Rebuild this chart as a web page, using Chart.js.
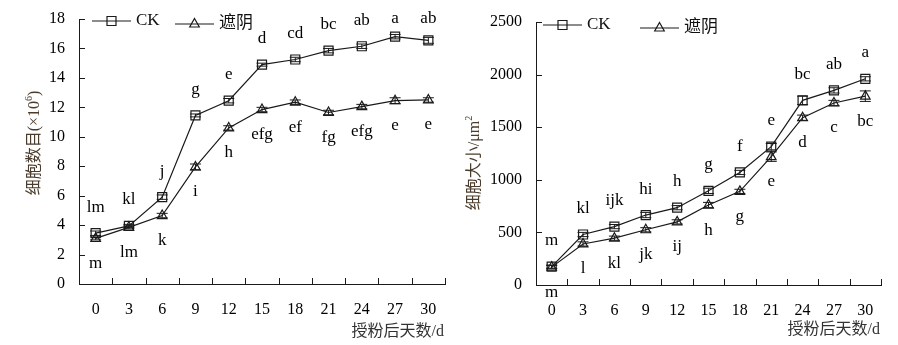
<!DOCTYPE html>
<html>
<head>
<meta charset="utf-8">
<script src="https://cdn.jsdelivr.net/npm/chart.js@4/dist/chart.umd.min.js"></script>
<style>
  html, body { margin: 0; padding: 0; background: #fff; }
  .box { position: absolute; top: 0; height: 345px; }
  #left { left: 0; width: 450px; }
  #right { left: 450px; width: 448px; }
</style>
</head>
<body>
<div class="box" id="left"><canvas id="countChart"></canvas></div>
<div class="box" id="right"><canvas id="sizeChart"></canvas></div>
<script>
// ---------------- Datos ----------------
const days = ['0', '3', '6', '9', '12', '15', '18', '21', '24', '27', '30'];

const countCK = [3.45, 3.95, 5.9, 11.45, 12.45, 14.9, 15.25, 15.85, 16.15, 16.8, 16.55];
const countShade = [3.1, 3.85, 4.65, 7.95, 10.6, 11.85, 12.35, 11.65, 12.05, 12.45, 12.5];
const countCKErr = [0.15, 0.1, 0.15, 0.1, 0.15, 0.1, 0.15, 0.15, 0.15, 0.15, 0.2];
const countShadeErr = [0.1, 0.1, 0.15, 0.2, 0.15, 0.15, 0.15, 0.15, 0.15, 0.2, 0.15];
const countCKSig = ['lm', 'kl', 'j', 'g', 'e', 'd', 'cd', 'bc', 'ab', 'a', 'ab'];
const countShadeSig = ['m', 'lm', 'k', 'i', 'h', 'efg', 'ef', 'fg', 'efg', 'e', 'e'];

const sizeCK = [175, 480, 555, 665, 735, 895, 1070, 1315, 1755, 1850, 1960];
const sizeShade = [170, 390, 445, 525, 600, 760, 890, 1220, 1590, 1730, 1795];
const sizeCKErr = [15, 20, 20, 25, 20, 25, 20, 30, 40, 25, 20];
const sizeShadeErr = [15, 20, 20, 20, 20, 25, 20, 45, 25, 25, 50];
const sizeCKSig = ['m', 'kl', 'ijk', 'hi', 'h', 'g', 'f', 'e', 'bc', 'ab', 'a'];
const sizeShadeSig = ['m', 'l', 'kl', 'jk', 'ij', 'h', 'g', 'e', 'd', 'c', 'bc'];

const seriesNames = ['CK', '遮阴'];

const FONT = '"Liberation Serif", "Noto Sans CJK SC", serif';
const INK = '#1a1a1a';

// ---------------- Marcadores ----------------

function drawMarker(ctx, style, x, y) {
    ctx.save();
    ctx.strokeStyle = INK;
    ctx.lineWidth = 1.2;
    ctx.beginPath();
    if (style === 'rect') {
        ctx.rect(x - 4.5, y - 4.5, 9, 9);
    } else {
        ctx.moveTo(x, y - 5.5);
        ctx.lineTo(x + 4.8, y + 3);
        ctx.lineTo(x - 4.8, y + 3);
        ctx.closePath();
    }
    ctx.stroke();
    ctx.restore();
}

// ---------------- Plugin: marcas de eje, barras de error, letras, leyenda, títulos ----------------

const decorPlugin = {
    id: 'decor',
    afterDatasetsDraw(chart, args, opts) {
        const ctx = chart.ctx;
        const xScale = chart.scales.x;
        const yScale = chart.scales.y;
        const area = chart.chartArea;

        // marcas hacia dentro
        ctx.save();
        ctx.strokeStyle = INK;
        ctx.lineWidth = 1;
        ctx.beginPath();
        for (let i = 0; i <= days.length; i++) {
            const px = Math.round(xScale.getPixelForValue(i - 0.5)) + 0.5;
            ctx.moveTo(px, area.bottom); ctx.lineTo(px, area.bottom - 6);
        }
        yScale.ticks.forEach(t => {
            const py = Math.round(yScale.getPixelForValue(t.value)) + 0.5;
            ctx.moveTo(area.left, py); ctx.lineTo(area.left + 6, py);
        });
        ctx.stroke();
        ctx.restore();

        chart.data.datasets.forEach((ds, di) => {
            const meta = chart.getDatasetMeta(di);
            meta.data.forEach((pt, i) => {
                const e = ds.err[i];
                const yTop = yScale.getPixelForValue(ds.data[i] + e);
                const yBot = yScale.getPixelForValue(ds.data[i] - e);
                ctx.save();
                ctx.strokeStyle = INK;
                ctx.lineWidth = 1;
                ctx.beginPath();
                ctx.moveTo(pt.x, yTop); ctx.lineTo(pt.x, yBot);
                ctx.moveTo(pt.x - 5.5, yTop); ctx.lineTo(pt.x + 5.5, yTop);
                ctx.moveTo(pt.x - 5.5, yBot); ctx.lineTo(pt.x + 5.5, yBot);
                ctx.stroke();
                ctx.restore();
                drawMarker(ctx, ds.marker, pt.x, pt.y);

                // letras de significancia
                ctx.save();
                ctx.font = '17px ' + FONT;
                ctx.fillStyle = '#000';
                ctx.textAlign = 'center';
                ctx.textBaseline = 'middle';
                let ty = di === 0 ? pt.y - 26 : pt.y + 25;
                if (di === 0) ty = Math.max(ty, opts.sigTop);
                ctx.fillText(ds.sig[i], pt.x, ty);
                ctx.restore();
            });
        });

        // leyenda
        opts.legend.forEach((lg, di) => {
            const ds = chart.data.datasets[di];
            ctx.save();
            ctx.strokeStyle = INK;
            ctx.lineWidth = 1.2;
            ctx.beginPath();
            ctx.moveTo(lg.x, lg.y); ctx.lineTo(lg.x + 39, lg.y);
            ctx.stroke();
            drawMarker(ctx, ds.marker, lg.x + 19.5, lg.y);
            ctx.font = '17px ' + FONT;
            ctx.fillStyle = '#111';
            ctx.textBaseline = 'middle';
            ctx.fillText(ds.label, lg.x + 44, lg.y);
            ctx.restore();
        });

        // título eje x
        ctx.save();
        ctx.font = '16px ' + FONT;
        ctx.fillStyle = '#333';
        ctx.textAlign = 'right';
        ctx.textBaseline = 'middle';
        ctx.fillText('授粉后天数/d', area.right - 1, opts.xTitleY);
        ctx.restore();

        // título eje y con superíndice
        ctx.save();
        ctx.translate(opts.yTitleX, opts.yTitleY);
        ctx.rotate(-Math.PI / 2);
        ctx.fillStyle = '#4a3c2c';
        ctx.textBaseline = 'middle';
        ctx.font = '16px ' + FONT;
        const w1 = ctx.measureText(opts.yTitle[0]).width;
        ctx.font = '10px ' + FONT;
        const w2 = ctx.measureText(opts.yTitle[1]).width;
        ctx.font = '16px ' + FONT;
        const w3 = ctx.measureText(opts.yTitle[2]).width;
        let x = -(w1 + w2 + w3) / 2;
        ctx.fillText(opts.yTitle[0], x, 0);
        x += w1;
        ctx.font = '10px ' + FONT;
        ctx.fillText(opts.yTitle[1], x, -6);
        x += w2;
        ctx.font = '16px ' + FONT;
        ctx.fillText(opts.yTitle[2], x, 0);
        ctx.restore();
    }
};

// ---------------- Plantilla de gráfica ----------------

function createPanel({ id, ck, shade, ckErr, shadeErr, ckSig, shadeSig, yMax, yStep, pad, yWidth, xHeight, decor }) {
    const ctx = document.getElementById(id);
    return new Chart(ctx, {
        type: 'line',
        data: {
            labels: days,
            datasets: [
                { label: seriesNames[0], data: ck, err: ckErr, sig: ckSig, marker: 'rect',
                  borderColor: INK, borderWidth: 1.2, pointRadius: 0, tension: 0, fill: false },
                { label: seriesNames[1], data: shade, err: shadeErr, sig: shadeSig, marker: 'triangle',
                  borderColor: INK, borderWidth: 1.2, pointRadius: 0, tension: 0, fill: false }
            ]
        },
        options: {
            responsive: true,
            maintainAspectRatio: false,
            animation: false,
            layout: { padding: pad },
            plugins: {
                legend: { display: false },
                tooltip: { enabled: false },
                decor
            },
            scales: {
                x: {
                    offset: true,
                    grid: { offset: true, drawOnChartArea: false, drawTicks: false },
                    border: { color: INK, width: 1 },
                    ticks: { color: '#000', font: { family: FONT, size: 16 }, padding: 16, maxRotation: 0 },
                    afterFit: s => { s.height = xHeight; s.paddingLeft = 0; s.paddingRight = 0; }
                },
                y: {
                    min: 0,
                    max: yMax,
                    grid: { drawOnChartArea: false, drawTicks: false },
                    border: { color: INK, width: 1 },
                    ticks: { stepSize: yStep, color: '#000', font: { family: FONT, size: 16 }, padding: 14,
                             callback: v => String(v) },
                    afterFit: s => { s.width = yWidth; s.paddingTop = 0; s.paddingBottom = 0; }
                }
            }
        },
        plugins: [decorPlugin]
    });
}

createPanel({
    id: 'countChart',
    ck: countCK, shade: countShade,
    ckErr: countCKErr, shadeErr: countShadeErr,
    ckSig: countCKSig, shadeSig: countShadeSig,
    yMax: 18, yStep: 2,
    pad: { top: 19, right: 5, left: 0, bottom: 0 },
    yWidth: 79, xHeight: 61,
    decor: {
        sigTop: 19,
        legend: [{ x: 92, y: 21 }, { x: 175, y: 24 }],
        xTitleY: 332,
        yTitleX: 35, yTitleY: 143,
        yTitle: ['细胞数目(×10', '6', ')']
    }
});

createPanel({
    id: 'sizeChart',
    ck: sizeCK, shade: sizeShade,
    ckErr: sizeCKErr, shadeErr: sizeShadeErr,
    ckSig: sizeCKSig, shadeSig: sizeShadeSig,
    yMax: 2500, yStep: 500,
    pad: { top: 22, right: 17, left: 0, bottom: 0 },
    yWidth: 86, xHeight: 60,
    decor: {
        sigTop: 0,
        legend: [{ x: 93, y: 25 }, { x: 190, y: 28 }],
        xTitleY: 330,
        yTitleX: 25, yTitleY: 163,
        yTitle: ['细胞大小/μm', '2', '']
    }
});
</script>
</body>
</html>
